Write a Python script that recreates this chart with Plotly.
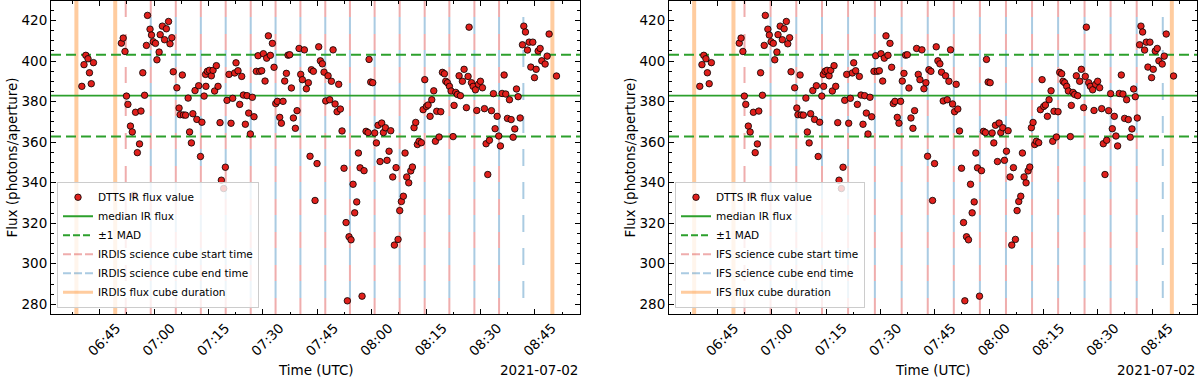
import pandas as pd
import plotly.graph_objects as go
from plotly.subplots import make_subplots

# DTTS flux samples, time in minutes after 06:00 UTC on 2021-07-02
flux_minutes = [
    40.1, 40.7, 41.2, 41.8, 42.2, 42.7, 43.3,
    51.0, 51.5, 52.0, 52.4, 52.8, 53.5, 54.0, 54.5, 54.9, 55.4, 56.0, 56.4, 56.9, 57.4,
    57.9, 58.2, 58.9, 59.3, 59.8, 60.4, 60.8, 61.4, 61.7, 62.3, 62.9, 63.4, 64.0, 64.4,
    64.9, 65.3, 66.3, 66.9, 67.2, 67.8, 68.1, 68.7, 69.4, 69.8, 70.3, 70.7, 71.3, 71.8,
    72.3, 72.8, 73.2, 73.8, 74.2, 74.3,
    74.7, 75.25, 75.8, 76.26, 76.7, 77.18, 77.64, 78.19, 78.56, 79.2, 79.66, 80.12, 80.67,
    81.22, 81.68, 82.23, 82.6, 83.15, 83.61, 84.16, 84.62, 85.17, 85.63, 86.09, 86.55,
    87.1, 87.56, 88.2, 88.67, 89.13, 89.68, 90.14, 90.6, 91.05, 91.52, 92.07, 92.62,
    93.08, 93.54, 94.0, 94.64, 95.1, 95.56, 96.02, 96.48, 96.94, 97.4, 97.86, 98.41,
    98.96, 99.42, 99.97, 100.43, 100.89, 101.44, 101.99, 102.54, 103.0, 103.37, 103.92, 104.38,
    104.93, 105.39, 105.85, 106.4, 106.86, 107.32, 107.97, 108.43, 108.89, 109.35, 109.9,
    110.45,
    110.9, 111.36, 111.82, 112.37, 112.93, 113.29, 113.75, 114.3, 114.86, 115.31, 115.87,
    116.33, 116.79, 117.34, 117.89, 118.44, 118.99, 119.27, 119.73, 120.28, 120.83, 121.29,
    121.75, 122.3, 122.76, 123.22, 123.77, 124.23, 124.78, 125.24, 125.79, 126.25, 126.71,
    127.26, 127.72, 128.18, 128.73, 129.19, 129.65, 130.2, 130.76, 131.22, 131.67, 132.13,
    132.59, 133.05, 133.69, 134.16, 134.62, 135.08, 135.54, 136.09, 136.55, 137.1, 137.56,
    137.92, 138.57, 139.03, 139.49, 140.04, 140.41, 140.87, 141.42, 141.88, 142.43, 142.7,
    143.16, 143.62, 144.08, 144.45, 145.0, 145.46, 146.1, 146.56, 146.84,
    147.49, 147.95, 148.59, 148.96, 149.42, 149.97, 150.52, 151.07, 151.53, 151.99, 152.45,
    153.0, 153.55, 154.01, 154.57, 155.02, 155.48, 155.94, 156.5, 156.95, 157.41, 157.97,
    158.43, 158.98, 159.44, 159.9, 160.36, 160.91, 161.55, 161.92, 162.38, 162.93, 163.39,
    163.85, 164.4, 164.86, 165.32, 165.87, 166.42, 166.88, 167.8, 168.35, 168.9, 170.93,
]
flux_values = [
    387.5, 398.2, 402.8, 401.1, 394.2, 388.8, 399.2,
    408.8, 411.3, 404.7, 382.7, 378.6, 367.9, 365.0, 333.8, 374.7, 354.8, 359.1, 375.3, 394.2, 383.1,
    407.7, 422.5, 415.7, 412.8, 409.5, 408.7, 400.6, 404.4, 413.0, 417.2, 410.5, 415.9, 419.5, 408.5,
    411.5, 394.7, 386.8, 376.8, 373.5, 393.1, 373.4, 373.3, 381.7, 365.0, 359.6, 374.0, 385.4, 371.2,
    387.8, 352.9, 369.8, 382.7, 393.4, 387.5,
    394.9, 395.4, 392.7, 395.4, 385.2, 397.7, 387.5, 369.6, 341.2, 337.1, 347.6, 380.6, 393.4,
    369.3, 381.6, 394.1, 399.1, 395.2, 378.6, 392.4, 383.2, 368.8, 382.9, 374.3, 364.0,
    382.1, 372.5, 394.9, 402.6, 394.9, 395.2, 403.6, 390.1, 401.4, 412.4, 402.8, 408.7,
    396.9, 379.0, 380.1, 372.2, 369.3, 380.1, 390.1, 393.9, 402.9, 403.1, 386.7, 371.9,
    366.8, 375.5, 406.2, 393.4, 390.8, 405.5, 386.3, 389.3, 353.0, 395.7, 394.9, 331.2,
    349.4, 407.0, 400.1, 398.6, 394.5, 380.3, 392.7, 380.9, 390.0, 405.5, 378.8,
    375.0,
    388.5, 376.3, 365.5, 347.1, 320.3, 281.7, 313.3, 311.8, 339.2, 325.1, 330.5,
    354.6, 347.3, 284.0, 345.9, 365.3, 364.7, 400.8, 389.6, 389.3, 364.5, 359.6,
    368.3, 350.4, 369.4, 364.7, 367.1, 351.0, 355.5, 365.6, 342.8, 309.2, 347.4,
    312.0, 326.2, 330.7, 333.3, 354.6, 342.8, 339.9, 345.8, 347.7, 367.1, 369.7,
    358.8, 360.4, 359.7, 376.0, 390.8, 377.6, 378.3, 372.7, 380.9, 385.3, 360.4,
    375.2, 362.5, 375.0, 394.4, 393.7, 390.0, 389.3, 387.5, 385.2, 362.7, 378.1,
    384.5, 383.5, 392.7, 382.9, 390.0, 395.9, 377.0, 392.4, 416.7,
    389.3, 387.5, 385.8, 375.6, 388.5, 390.0, 386.8, 376.5, 359.2, 344.0, 360.9,
    375.5, 383.9, 366.6, 372.7, 363.0, 358.1, 384.0, 393.1, 383.7, 371.7, 380.9,
    371.1, 362.4, 366.5, 386.2, 382.4, 371.9, 408.0, 417.2, 414.3, 405.4, 409.3,
    397.0, 409.3, 391.8, 395.9, 404.9, 406.2, 400.1, 398.5, 402.4, 413.3, 392.6,
]

flux_median = 382.9
flux_mad = 20.2

# cube times, minutes after 06:00 UTC
irdis_start = [52.2, 59.1, 66.0, 72.9, 79.75, 86.65, 93.5, 100.35, 107.2, 114.0, 120.8, 127.7,
               134.6, 141.4, 148.3, 155.1]
irdis_end = [59.1, 66.0, 72.9, 79.75, 86.65, 93.5, 100.35, 107.2, 114.0, 120.8, 127.7, 134.6,
             141.4, 148.3, 155.1, 161.8]
irdis_flux = [38.6, 49.3, 169.8]

ifs_start = [52.45, 59.65, 66.75, 73.85, 81.05, 88.45, 95.85, 103.05, 110.25, 117.45, 124.65,
             131.85, 139.05, 146.35, 153.55, 160.75]
ifs_end = [59.65, 66.75, 73.85, 81.05, 88.45, 95.85, 103.05, 110.25, 117.45, 124.65, 131.85,
           139.05, 146.35, 153.55, 160.75, 167.95]
ifs_flux = [38.55, 49.4, 170.45]

night = pd.Timestamp("2021-07-02 06:00")


def to_time(mins):
    return [night + pd.Timedelta(minutes=m) for m in mins]


RED = "rgba(214,39,40,0.38)"
BLUE = "rgba(31,119,180,0.38)"
ORANGE = "rgba(255,127,14,0.4)"
GREEN = "#2ca02c"
FONT = "DejaVu Sans"

fig = make_subplots(rows=1, cols=2)

panels = [
    (1, "IRDIS", irdis_start, irdis_end, irdis_flux, "legend"),
    (2, "IFS", ifs_start, ifs_end, ifs_flux, "legend2"),
]

for col, inst, starts, ends, cubes, leg in panels:
    xr = "x" if col == 1 else "x2"
    yr = "y" if col == 1 else "y2"

    for t in to_time(cubes):
        fig.add_shape(type="line", xref=xr, yref=yr + " domain", x0=t, x1=t, y0=0, y1=1,
                      line=dict(color=ORANGE, width=4), layer="below")
    for t in to_time(starts):
        fig.add_shape(type="line", xref=xr, yref=yr + " domain", x0=t, x1=t, y0=0, y1=1,
                      line=dict(color=RED, width=2, dash="16px,17px"), layer="below")
    for t in to_time(ends):
        fig.add_shape(type="line", xref=xr, yref=yr + " domain", x0=t, x1=t, y0=0, y1=1,
                      line=dict(color=BLUE, width=2, dash="0px,16px,17px,0px"), layer="below")

    fig.add_shape(type="line", xref=xr + " domain", yref=yr, x0=0, x1=1,
                  y0=flux_median, y1=flux_median, line=dict(color=GREEN, width=1.8), layer="below")
    for v in (flux_median + flux_mad, flux_median - flux_mad):
        fig.add_shape(type="line", xref=xr + " domain", yref=yr, x0=0, x1=1, y0=v, y1=v,
                      line=dict(color=GREEN, width=2, dash="10px,5px"), layer="below")

    fig.add_trace(go.Scatter(
        x=to_time(flux_minutes), y=flux_values, mode="markers", name="DTTS IR flux value",
        marker=dict(color="#e0201c", size=6.5, line=dict(color="black", width=0.8)),
        legend=leg,
    ), row=1, col=col)

    legend_lines = [
        ("median IR flux", GREEN, "solid", 2),
        ("\u00b11 MAD", GREEN, "7px,3px", 2),
        (f"{inst} science cube start time", RED, "8px,3px", 2),
        (f"{inst} science cube end time", BLUE, "8px,3px", 2),
        (f"{inst} flux cube duration", ORANGE, "solid", 3),
    ]
    for name, color, dash, width in legend_lines:
        fig.add_trace(go.Scatter(
            x=[None], y=[None], mode="lines", name=name,
            line=dict(color=color, dash=dash, width=width), legend=leg,
        ), row=1, col=col)

x_range = [night + pd.Timedelta(minutes=31.6), night + pd.Timedelta(minutes=177.4)]
y_range = [275.2, 429.6]

axis_common = dict(
    showline=True, linecolor="black", linewidth=1, mirror="allticks",
    ticks="inside", ticklen=5, tickwidth=1, tickcolor="black",
    showgrid=False, zeroline=False, automargin=False,
    tickfont=dict(family=FONT, size=13.5, color="black"),
)

fig.update_xaxes(
    **axis_common, type="date", range=x_range, tickformat="%H:%M",
    tick0="2021-07-02 06:45", dtick=900000, tickangle=-45, ticklabelshift=17,
    minor=dict(ticks="inside", ticklen=2.5, tickcolor="black", dtick=450000),
)
fig.update_yaxes(
    **axis_common, range=y_range, tick0=280, dtick=20,
    minor=dict(ticks="inside", ticklen=2.5, tickcolor="black", dtick=5),
)
fig.update_layout(xaxis=dict(domain=[0.0425, 0.4833]), xaxis2=dict(domain=[0.5575, 0.9975]))

legend_style = dict(
    font=dict(family=FONT, size=10.5, color="black"),
    bgcolor="rgba(255,255,255,0.8)", bordercolor="#cccccc", borderwidth=1,
    xanchor="left", yanchor="bottom", y=0.02, tracegroupgap=0,
)

annotations = []
for x0, x1 in [(51, 580), (669, 1197)]:
    annotations += [
        dict(text="Time (UTC)", x=(x0 + x1) / 2 / 1200, y=-0.179, xref="paper", yref="paper",
             showarrow=False, xanchor="center", yanchor="middle",
             font=dict(family=FONT, size=13.5, color="black")),
        dict(text="2021-07-02", x=x1 / 1200, y=-0.179, xref="paper", yref="paper",
             showarrow=False, xanchor="right", yanchor="middle",
             font=dict(family=FONT, size=13.5, color="black")),
        dict(text="Flux (photons/aperture)", x=(x0 - 40) / 1200, y=0.5, xref="paper",
             yref="paper", showarrow=False, xanchor="center", yanchor="middle", textangle=-90,
             font=dict(family=FONT, size=13.5, color="black")),
    ]

fig.update_layout(
    width=1200, height=377,
    margin=dict(l=0, r=0, t=1, b=63),
    plot_bgcolor="white", paper_bgcolor="white",
    font=dict(family=FONT, color="black"),
    legend=dict(**legend_style, x=57 / 1200),
    legend2=dict(**legend_style, x=675 / 1200),
    annotations=annotations,
)

fig.write_html("out.html", config={"displayModeBar": False},
               post_script="document.body.style.margin = '0px';")
